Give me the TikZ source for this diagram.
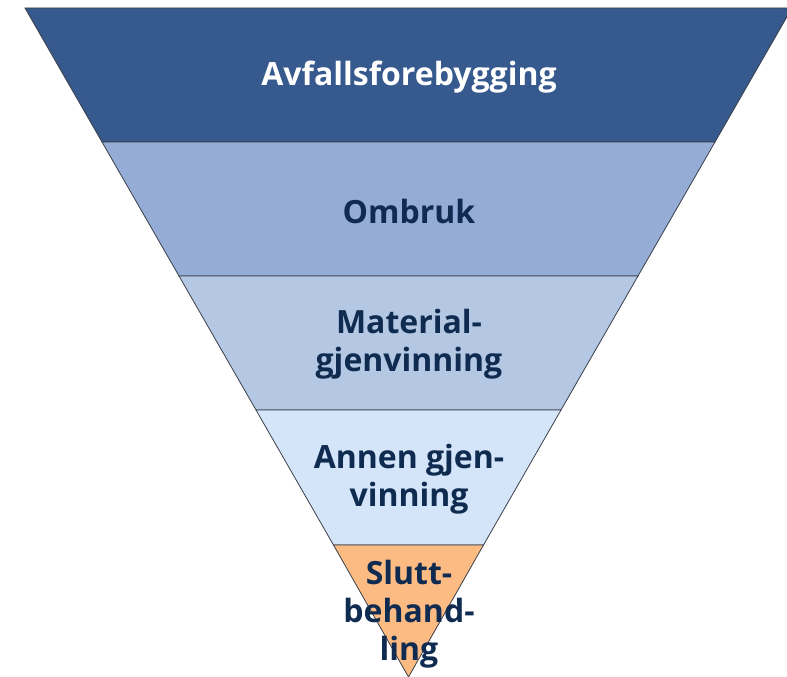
\documentclass[tikz,border=0pt]{standalone}
\usepackage{fontspec}
\setmainfont{Open Sans}
\definecolor{c1}{HTML}{36598E}
\definecolor{c2}{HTML}{94ACD6}
\definecolor{c3}{HTML}{B4C7E3}
\definecolor{c4}{HTML}{D4E5FA}
\definecolor{c5}{HTML}{FDBB84}
\definecolor{txt}{HTML}{0F2B50}
\definecolor{edge}{HTML}{3A3F48}
\tikzset{
  band/.style={draw=edge, line width=0.8pt, line join=miter},
  lbl/.style={font=\fontsize{32}{38}\selectfont\bfseries, text=txt, align=center, inner sep=0pt},
}
\begin{document}
\begin{tikzpicture}[x=1pt,y=-1pt]
\useasboundingbox (0,0) rectangle (787,677);
\clip (0,0) rectangle (787,677);
% edge points: left x = 25 + 77*(y-8)/134, right x = 792 - 77*(y-8)/134
\coordinate (l0) at (25,8);    \coordinate (r0) at (792,8);
\coordinate (l1) at (102,142); \coordinate (r1) at (715,142);
\coordinate (l2) at (179,276); \coordinate (r2) at (638,276);
\coordinate (l3) at (256,410); \coordinate (r3) at (561,410);
\coordinate (l4) at (333.5,545); \coordinate (r4) at (483.5,545);
\coordinate (ap) at (408.5,677);
\filldraw[band, fill=c1] (l0) -- (r0) -- (r1) -- (l1) -- cycle;
\filldraw[band, fill=c2] (l1) -- (r1) -- (r2) -- (l2) -- cycle;
\filldraw[band, fill=c3] (l2) -- (r2) -- (r3) -- (l3) -- cycle;
\filldraw[band, fill=c4] (l3) -- (r3) -- (r4) -- (l4) -- cycle;
\filldraw[band, fill=c5] (l4) -- (r4) -- (ap) -- cycle;
\node[lbl, text=white] (t1) at (409,77) {Avfallsforebygging};
\node[lbl] (t2) at (409,211) {Ombruk};
\node[lbl] (t3) at (409,344) {Material-\\gjenvinning};
\node[lbl] (t4) at (409,479) {Annen gjen-\\vinning};
\node[lbl] (t5) at (409,614) {Slutt-\\behand-\\ling};
\end{tikzpicture}
\end{document}
